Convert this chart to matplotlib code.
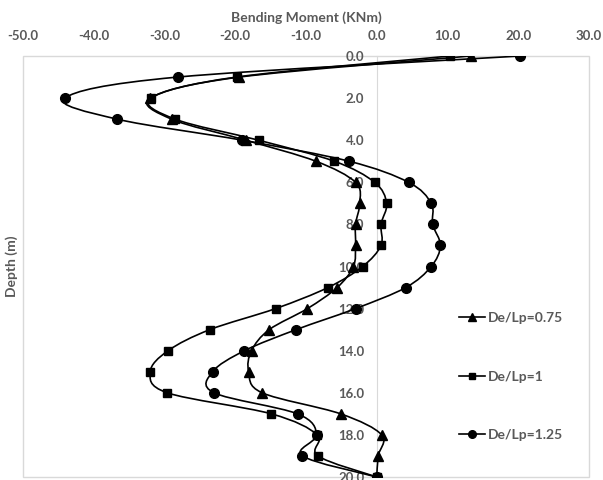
import numpy as np
import matplotlib
matplotlib.use('Agg')
import matplotlib.pyplot as plt
from matplotlib.path import Path
from matplotlib.patches import PathPatch, Rectangle
from matplotlib.lines import Line2D

plt.rcParams['font.family'] = ['Lato', 'DejaVu Sans']

# depth (m) and bending moment (kNm) for each De/Lp ratio
depth = [0, 1, 2, 3, 4, 5, 6, 7, 8, 9, 10, 11, 12, 13, 14, 15, 16, 17, 18, 19, 20]
m_075 = [13.3, -19.4, -32.0, -29.0, -18.5, -8.6, -3.0, -2.4, -3.0, -3.0, -3.3,
         -5.6, -9.8, -15.2, -17.7, -18.1, -16.2, -5.1, 0.7, 0.2, 0.0]
m_100 = [10.4, -19.8, -31.9, -28.5, -16.7, -6.0, -0.3, 1.4, 0.6, 0.6, -2.0,
         -6.9, -14.3, -23.6, -29.5, -32.0, -29.6, -14.9, -8.4, -8.3, 0.0]
m_125 = [20.3, -28.1, -44.1, -36.7, -19.0, -3.9, 4.5, 7.7, 7.9, 9.0, 7.7,
         4.1, -3.0, -11.4, -18.7, -23.2, -23.0, -11.2, -8.5, -10.5, 0.0]

series = [('De/Lp=0.75', m_075, '^', 7),
          ('De/Lp=1', m_100, 's', 6),
          ('De/Lp=1.25', m_125, 'o', 7)]

xticks = [-50, -40, -30, -20, -10, 0, 10, 20, 30]
yticks = [0, 2, 4, 6, 8, 10, 12, 14, 16, 18, 20]

grey = '#595959'
light = '#d9d9d9'


def smooth(x, y):
    # bezier curve through the points, like excel "smoothed line"
    p = np.column_stack([x, y]).astype(float)
    n = len(p)
    verts = [p[0]]
    codes = [Path.MOVETO]
    for i in range(n - 1):
        p0 = p[i - 1] if i > 0 else p[i]
        p3 = p[i + 2] if i + 2 < n else p[i + 1]
        verts += [p[i] + (p[i + 1] - p0) / 6, p[i + 1] - (p3 - p[i]) / 6, p[i + 1]]
        codes += [Path.CURVE4] * 3
    return Path(verts, codes)


fig = plt.figure(figsize=(6.03, 4.8), dpi=100)
ax = fig.add_axes([23 / 603, 3 / 480, 566 / 603, 421 / 480])

handles = []
for label, vals, mk, ms in series:
    ax.add_patch(PathPatch(smooth(vals, depth), fill=False, edgecolor='black', lw=1.2, zorder=3))
    ax.plot(vals, depth, linestyle='none', marker=mk, ms=ms, color='black', zorder=4)
    handles.append(Line2D([], [], color='black', lw=1.2, marker=mk, ms=ms - 1.5))

ax.set_xlim(-50, 30)
ax.set_ylim(20, 0)
ax.set_xticks(xticks)
ax.set_yticks(yticks)
ax.xaxis.set_major_formatter(matplotlib.ticker.FormatStrFormatter('%.1f'))
ax.yaxis.set_major_formatter(matplotlib.ticker.FormatStrFormatter('%.1f'))
ax.xaxis.tick_top()
ax.xaxis.set_label_position('top')

for s in ['top', 'right', 'bottom']:
    ax.spines[s].set_visible(False)
ax.spines['left'].set_position(('data', 0))
ax.spines['left'].set_color(light)
ax.add_patch(Rectangle((0, 0), 1, 1, transform=ax.transAxes, fill=False,
                       edgecolor=light, lw=1.0, clip_on=False, zorder=1))

ax.tick_params(axis='both', length=0, colors=grey, labelsize=9.5)
ax.tick_params(axis='y', pad=9)
ax.tick_params(axis='x', pad=10)
for t in ax.get_xticklabels() + ax.get_yticklabels():
    t.set_fontweight('bold')

ax.set_xlabel('Bending Moment (KNm)', color=grey, fontsize=10, fontweight='bold', labelpad=6)
fig.text(12 / 603, 1 - 266 / 480, 'Depth (m)', rotation=90, color=grey, fontsize=10,
         fontweight='bold', ha='center', va='center')

leg = ax.legend(handles, [s[0] for s in series], loc='upper left',
                bbox_to_anchor=((459 - 23) / 603 * 603 / 566, 1 - (312 - 56) / 421), frameon=False,
                labelspacing=3.35, handlelength=1.9, handletextpad=0.15,
                borderpad=0, borderaxespad=0,
                prop={'size': 10, 'weight': 'bold'})
for t in leg.get_texts():
    t.set_color(grey)

fig.savefig('out.png', dpi=100)
